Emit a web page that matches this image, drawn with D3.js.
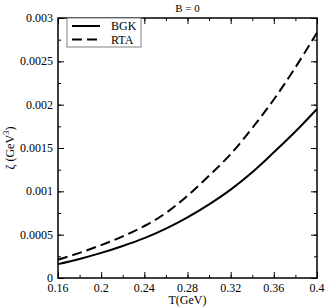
<!DOCTYPE html>
<meta charset="utf-8">
<html>
<head>
<title>zeta vs T</title>
<style>
  body { margin: 0; background: #fff; }
  text { font-family: "Liberation Serif", "Times New Roman", serif; }
</style>
<script src="https://cdn.jsdelivr.net/npm/d3@7"></script>
</head>
<body>
<script>
// values
var temps = [0.16, 0.18, 0.2, 0.22, 0.24, 0.26, 0.28, 0.30, 0.32, 0.34, 0.36, 0.38, 0.4]
var bgk = [0.00016, 0.00022, 0.00029, 0.00037, 0.00046, 0.00057, 0.0007, 0.00085, 0.00102, 0.00122, 0.00145, 0.00169, 0.00195]
var rta = [0.00021, 0.00029, 0.00038, 0.00048, 0.0006, 0.00075, 0.00095, 0.00118, 0.00143, 0.00173, 0.00206, 0.00243, 0.00283]
var xTicks = [0.16, 0.2, 0.24, 0.28, 0.32, 0.36, 0.4]
var yTicks = [0, 0.0005, 0.001, 0.0015, 0.002, 0.0025, 0.003]
var series = [
  {name: "BGK", values: bgk, dash: null},
  {name: "RTA", values: rta, dash: "10,5"}
]

var svgWidth = 327, svgHeight = 307
var margin = {top: 18, right: 10, bottom: 29, left: 58}
var width = svgWidth - margin.left - margin.right
var height = svgHeight - margin.top - margin.bottom

var svg = d3.select("body").append("svg")
    .attr("width", svgWidth)
    .attr("height", svgHeight)

var x = d3.scaleLinear().domain([0.16, 0.4]).range([0, width])
var y = d3.scaleLinear().domain([0, 0.003]).range([height, 0])

var g = svg.append("g")
    .attr("transform", "translate(" + margin.left + "," + margin.top + ")")

var minorX = d3.range(0.16, 0.4001, 0.02)
var minorY = d3.range(0, 0.00301, 0.00025)

// ticks on all four sides, pointing inward
function ticks(axis, vals, len) {
  return axis.tickValues(vals).tickSize(len).tickSizeOuter(0).tickFormat(() => "")
}
;[[minorX, minorY, 3], [xTicks, yTicks, 6]].forEach(([tx, ty, len]) => {
  g.append("g").attr("transform", "translate(0," + height + ")")
    .call(ticks(d3.axisTop(x), tx, len))
  g.append("g").call(ticks(d3.axisBottom(x), tx, len))
  g.append("g").call(ticks(d3.axisRight(y), ty, len))
  g.append("g").attr("transform", "translate(" + width + ",0)")
    .call(ticks(d3.axisLeft(y), ty, len))
})

g.selectAll(".domain").remove()
g.selectAll(".tick line").attr("stroke", "#000").attr("stroke-width", 1)

// tick labels
g.selectAll(".xlab").data(xTicks).enter().append("text")
  .attr("x", d => x(d)).attr("y", height + 14)
  .attr("text-anchor", "middle").attr("font-size", 12)
  .text(d => String(+d.toFixed(2)))
g.selectAll(".ylab").data(yTicks).enter().append("text")
  .attr("x", -5).attr("y", d => y(d) + 4)
  .attr("text-anchor", "end").attr("font-size", 12)
  .text(d => d === 0 ? "0" : String(+d.toFixed(4)))

// frame
g.append("rect").attr("width", width).attr("height", height)
  .attr("fill", "none").attr("stroke", "#000").attr("stroke-width", 1.5)

// curves
var line = d3.line().curve(d3.curveCatmullRom)
  .x((d, i) => x(temps[i])).y(d => y(d))
g.selectAll(".curve").data(series).enter().append("path")
  .attr("d", d => line(d.values))
  .attr("fill", "none").attr("stroke", "#000").attr("stroke-width", 2)
  .attr("stroke-dasharray", d => d.dash)

// legend
var leg = g.append("g").attr("transform", "translate(9,0)")
leg.append("rect").attr("width", 74).attr("height", 29)
  .attr("fill", "#fff").attr("stroke", "#808080").attr("stroke-width", 1)
series.forEach((s, i) => {
  var ly = 8 + i * 13.5
  leg.append("line").attr("x1", 5).attr("x2", 33).attr("y1", ly).attr("y2", ly)
    .attr("stroke", "#000").attr("stroke-width", 2)
    .attr("stroke-dasharray", s.dash)
  leg.append("text").attr("x", 44).attr("y", ly + 4)
    .attr("font-size", 12).text(s.name)
})

// titles
svg.append("text").attr("x", margin.left + width / 2).attr("y", 12)
  .attr("text-anchor", "middle").attr("font-size", 11).text("B = 0")
svg.append("text").attr("x", margin.left + width / 2).attr("y", 304)
  .attr("text-anchor", "middle").attr("font-size", 12).text("T(GeV)")
var yl = svg.append("text")
  .attr("transform", "translate(14," + (margin.top + height / 2) + ") rotate(-90)")
  .attr("text-anchor", "middle").attr("font-size", 12)
yl.append("tspan").text("ζ (GeV")
yl.append("tspan").attr("dy", -5).attr("font-size", 9).text("3")
yl.append("tspan").attr("dy", 5).text(")")
</script>
</body>
</html>
